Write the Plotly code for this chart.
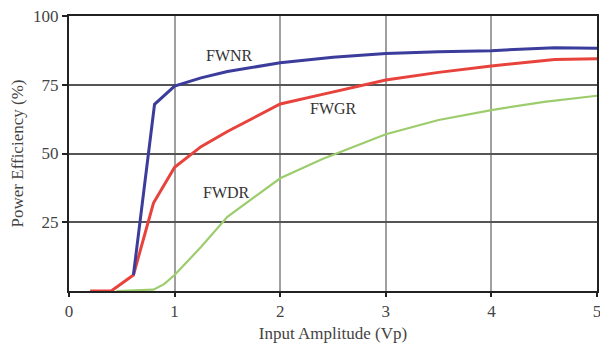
import plotly.graph_objects as go

# Data
fwnr_x = [0.61, 0.81, 1.0, 1.25, 1.5, 2.0, 2.5, 3.0, 3.5, 4.0, 4.6, 5.0]
fwnr_y = [5.8, 67.9, 74.5, 77.5, 79.8, 83.0, 85.0, 86.4, 87.0, 87.4, 88.5, 88.3]

fwgr_x = [0.2, 0.4, 0.61, 0.7, 0.8, 1.0, 1.25, 1.5, 2.0, 2.4, 3.0, 3.5, 4.0, 4.6, 5.0]
fwgr_y = [0, 0, 5.8, 18.5, 32.0, 45.0, 52.5, 58.0, 68.0, 71.5, 76.7, 79.5, 81.8, 84.2, 84.5]

fwdr_x = [0.45, 0.8, 0.9, 1.0, 1.25, 1.5, 2.0, 2.4, 3.0, 3.5, 4.0, 4.5, 5.0]
fwdr_y = [0, 0.5, 2.5, 5.8, 16.0, 27.0, 41.0, 48.0, 57.0, 62.2, 65.8, 68.8, 71.0]

x_ticks = [0, 1, 2, 3, 4, 5]
y_ticks = [25, 50, 75, 100]

labels = ["FWNR", "FWGR", "FWDR"]
label_x = [1.52, 2.5, 1.49]
label_y = [85.5, 66.5, 36]

fig = go.Figure()
fig.add_trace(go.Scatter(x=fwdr_x, y=fwdr_y, mode="lines",
                         line=dict(color="#9ccc6c", width=2.2), cliponaxis=False))
fig.add_trace(go.Scatter(x=fwgr_x, y=fwgr_y, mode="lines",
                         line=dict(color="#e8423c", width=3), cliponaxis=False))
fig.add_trace(go.Scatter(x=fwnr_x, y=fwnr_y, mode="lines",
                         line=dict(color="#3c3c9c", width=3), cliponaxis=False))

for t, lx, ly in zip(labels, label_x, label_y):
    fig.add_annotation(x=lx, y=ly, text=t, showarrow=False,
                       font=dict(family="Liberation Serif", size=16, color="#333333"))

font = dict(family="Liberation Serif", size=17, color="#444444")
# page body has an 8px margin, so the figure is 8px smaller and offset
fig.update_layout(
    width=600, height=343,
    margin=dict(l=61, r=11, t=8, b=60),
    paper_bgcolor="white", plot_bgcolor="white",
    showlegend=False,
    font=font,
    xaxis=dict(range=[0, 5], tickvals=x_ticks, ticktext=[str(v) for v in x_ticks],
               showgrid=True, gridcolor="#a0a0a0", gridwidth=2,
               showline=True, linecolor="#222222", linewidth=2, mirror=True,
               ticks="outside", ticklen=4, tickcolor="#222222", tickwidth=2,
               zeroline=False, automargin=False, ticklabeloverflow="allow",
               title=dict(text="Input Amplitude (Vp)", font=font, standoff=7)),
    yaxis=dict(range=[0, 100], tickvals=y_ticks, ticktext=[str(v) for v in y_ticks],
               showgrid=True, gridcolor="#555555", gridwidth=1.5,
               showline=True, linecolor="#222222", linewidth=2, mirror=True,
               ticks="outside", ticklen=5, tickcolor="#222222", tickwidth=2,
               zeroline=False, automargin=False, ticklabeloverflow="allow",
               title=dict(text="Power Efficiency (%)", font=font, standoff=21)),
)
fig.write_html("out.html")
